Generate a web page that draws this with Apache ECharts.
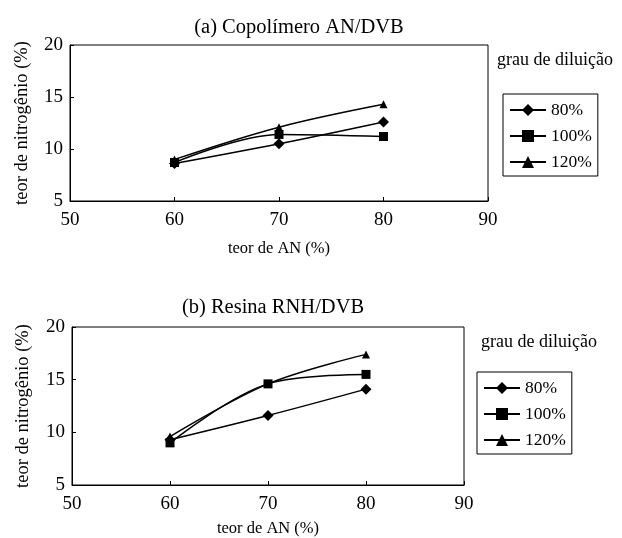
<!DOCTYPE html>
<html>
<head>
<meta charset="utf-8">
<script src="https://cdn.jsdelivr.net/npm/echarts@6/dist/echarts.min.js"></script>
<style>
  html, body { margin: 0; padding: 0; background: #fff; }
  #chart { width: 622px; height: 538px; }
</style>
</head>
<body>
<div id="chart"></div>
<script>
// teor de AN (%) on the x axis
var anContent = [60, 70, 80];
var seriesNames = ['80%', '100%', '120%'];

// (a) Copolímero AN/DVB - teor de nitrogênio (%)
var copo80 = [8.6, 10.5, 12.6];
var copo100 = [8.7, 11.4, 11.2];
var copo120 = [9.0, 12.1, 14.3];

// (b) Resina RNH/DVB - teor de nitrogênio (%)
var resina80 = [9.3, 11.6, 14.1];
var resina100 = [9.0, 14.6, 15.5];
var resina120 = [9.6, 14.6, 17.4];

var FONT = "'Liberation Serif', 'Times New Roman', serif";
var symbols = ['diamond', 'rect', 'triangle'];
var symbolSizes = [11, 9, 8];

function pairs(ys) {
    return anContent.map(function (x, i) { return [x, ys[i]]; });
}

function xAxisFor(idx, nameGap) {
    return {
        gridIndex: idx,
        type: 'value',
        min: 50, max: 90, interval: 10,
        name: 'teor de AN (%)',
        nameLocation: 'middle',
        nameGap: nameGap,
        nameTextStyle: { fontFamily: FONT, fontSize: 16.5, color: '#000' },
        axisLine: { show: true, lineStyle: { color: '#000', width: 1 } },
        axisTick: { show: true, inside: true, length: 4, lineStyle: { color: '#000' } },
        axisLabel: { fontFamily: FONT, fontSize: 19, color: '#000', margin: 10 },
        splitLine: { show: false }
    };
}

function yAxisFor(idx, nameGap) {
    return {
        gridIndex: idx,
        type: 'value',
        min: 5, max: 20, interval: 5,
        name: 'teor de nitrogênio (%)',
        nameLocation: 'middle',
        nameGap: nameGap,
        nameTextStyle: { fontFamily: FONT, fontSize: 18.5, color: '#000' },
        axisLine: { show: true, lineStyle: { color: '#000', width: 1 } },
        axisTick: { show: true, inside: true, length: 4, lineStyle: { color: '#000' } },
        axisLabel: { fontFamily: FONT, fontSize: 19, color: '#000', margin: 7 },
        splitLine: { show: false }
    };
}

function makeSeries(idx, lists) {
    return lists.map(function (ys, k) {
        return {
            name: seriesNames[k],
            type: 'line',
            xAxisIndex: idx,
            yAxisIndex: idx,
            data: pairs(ys),
            smooth: 0.35,
            symbol: symbols[k],
            symbolSize: symbolSizes[k],
            itemStyle: { color: '#000' },
            lineStyle: { color: '#000', width: 1.5 },
            z: 3
        };
    });
}

function legendAt(left, top) {
    return {
        orient: 'vertical',
        left: left,
        top: top,
        data: seriesNames,
        itemWidth: 36,
        itemHeight: 15,
        itemGap: 8,
        padding: [7, 6, 5, 6],
        borderColor: '#000',
        borderWidth: 1,
        selectedMode: false,
        textStyle: { fontFamily: FONT, fontSize: 17.5, color: '#000', lineHeight: 18 }
    };
}

var chart = echarts.init(document.getElementById('chart'));
chart.setOption({
    animation: false,
    backgroundColor: '#fff',
    title: [
        { text: '(a) Copolímero AN/DVB', left: 294, top: 12, textAlign: 'center',
          textStyle: { fontFamily: FONT, fontSize: 20.5, fontWeight: 'normal', color: '#000' } },
        { text: '(b) Resina RNH/DVB', left: 268, top: 292, textAlign: 'center',
          textStyle: { fontFamily: FONT, fontSize: 20.5, fontWeight: 'normal', color: '#000' } },
        { text: 'grau de diluição', left: 492, top: 46,
          textStyle: { fontFamily: FONT, fontSize: 18, fontWeight: 'normal', color: '#000' } },
        { text: 'grau de diluição', left: 476, top: 328,
          textStyle: { fontFamily: FONT, fontSize: 18, fontWeight: 'normal', color: '#000' } }
    ],
    legend: [legendAt(503, 94), legendAt(477, 372)],
    grid: [
        { left: 70, top: 45, width: 418, height: 156, show: true, borderColor: '#000', borderWidth: 1 },
        { left: 72, top: 327, width: 392, height: 159, show: true, borderColor: '#000', borderWidth: 1 }
    ],
    xAxis: [xAxisFor(0, 39), xAxisFor(1, 35)],
    yAxis: [yAxisFor(0, 38), yAxisFor(1, 39)],
    series: makeSeries(0, [copo80, copo100, copo120])
        .concat(makeSeries(1, [resina80, resina100, resina120]))
});
</script>
</body>
</html>
